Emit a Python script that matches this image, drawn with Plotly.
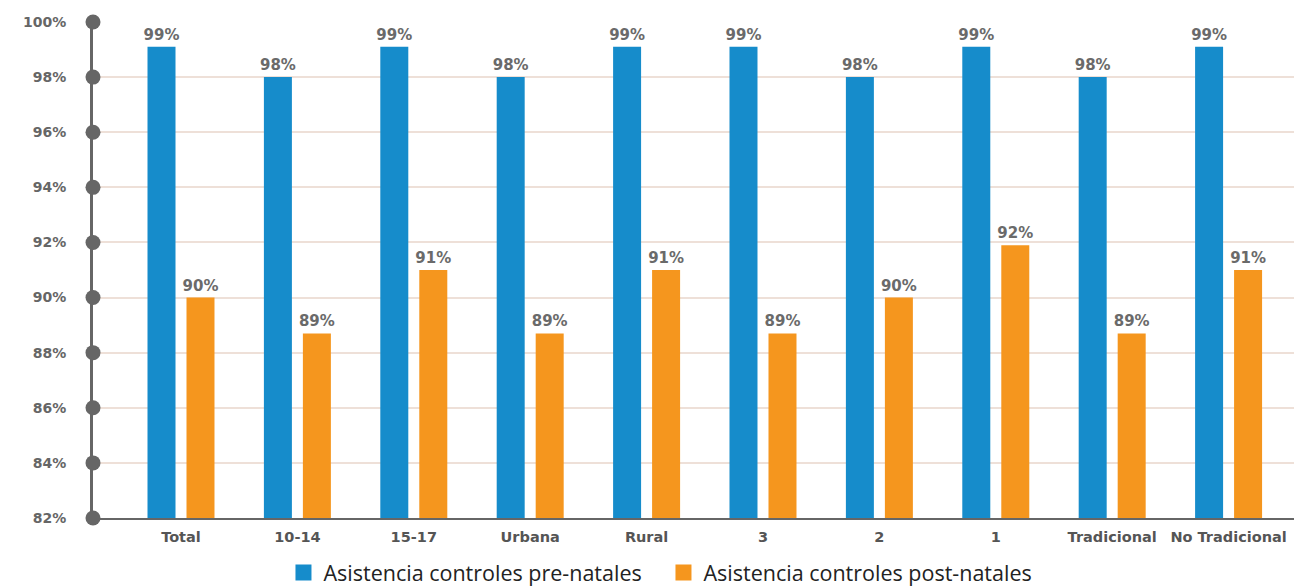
import plotly.graph_objects as go

categories = ["Total", "10-14", "15-17", "Urbana", "Rural", "3", "2", "1", "Tradicional", "No Tradicional"]
pre_natal = [99.1, 98.0, 99.1, 98.0, 99.1, 99.1, 98.0, 99.1, 98.0, 99.1]
post_natal = [90.0, 88.7, 91.0, 88.7, 91.0, 88.7, 90.0, 91.9, 88.7, 91.0]
y_ticks = [82, 84, 86, 88, 90, 92, 94, 96, 98, 100]
series_names = ["Asistencia controles pre-natales", "Asistencia controles post-natales"]

BLUE = "#168ccb"
ORANGE = "#f5961e"
GREY = "#666666"
LABEL_FONT = dict(family="DejaVu Sans", size=15, color="#6a6a6a", weight="bold")

fig = go.Figure()
for vals, col in [(pre_natal, BLUE), (post_natal, ORANGE)]:
    fig.add_trace(go.Bar(
        x=categories, y=vals, marker=dict(color=col, line=dict(width=0)),
        texttemplate="%{y:.0f}%", textposition="outside", textfont=LABEL_FONT,
        constraintext="none", cliponaxis=False, showlegend=False, hoverinfo="skip",
    ))

# axis markers (circles on y-axis at each tick)
fig.add_trace(go.Scatter(
    x=[0] * len(y_ticks), y=y_ticks, xaxis="x2", mode="markers",
    marker=dict(size=15, color=GREY), cliponaxis=False, showlegend=False, hoverinfo="skip",
))

# legend entries
for name, col in zip(series_names, [BLUE, ORANGE]):
    fig.add_trace(go.Scatter(
        x=[None], y=[None], mode="markers", name=name,
        marker=dict(symbol="square", size=16, color=col),
    ))

fig.update_layout(
    template="none",
    width=1294, height=586,
    margin=dict(l=93, r=0, t=22, b=68, autoexpand=False),
    paper_bgcolor="white", plot_bgcolor="white",
    barmode="group", bargap=0.33, bargroupgap=0.282,
    xaxis=dict(
        type="category", range=[-0.756, 9.562], showgrid=False,
        showline=True, linecolor=GREY, linewidth=2, ticks="", automargin=False,
        tickfont=dict(family="DejaVu Sans", size=14.5, color="#555555", weight="bold"),
        ticklabelstandoff=5,
    ),
    xaxis2=dict(overlaying="x", range=[0, 1], visible=False, automargin=False),
    yaxis=dict(
        range=[82, 100], tickvals=y_ticks, ticktext=[f"{v}%" for v in y_ticks],
        showgrid=True, gridcolor="#eee0d8", gridwidth=1.5, zeroline=False,
        showline=True, linecolor=GREY, linewidth=3, ticks="", automargin=False,
        tickfont=dict(family="DejaVu Sans", size=14, color="#666666", weight="bold"),
        ticklabelstandoff=21,
    ),
    legend=dict(
        orientation="h", x=0.475, xanchor="center", y=-0.110, yanchor="middle",
        font=dict(family="Open Sans", size=21.5, color="#222222"),
        entrywidth=335, entrywidthmode="pixels", itemsizing="trace",
        tracegroupgap=0, borderwidth=0,
    ),
)

fig.write_html("out.html")
